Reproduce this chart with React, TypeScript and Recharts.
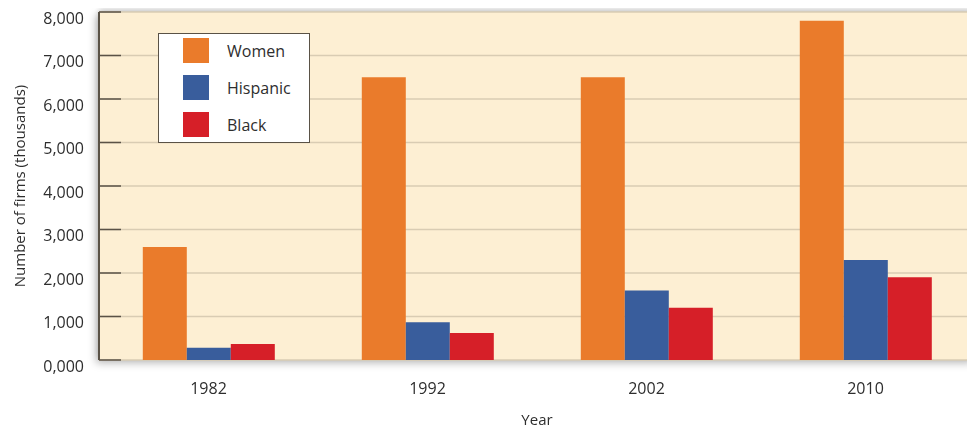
import { BarChart, Bar, XAxis, YAxis, CartesianGrid, Legend } from "recharts"

const years = ["1982", "1992", "2002", "2010"]
const women = [2600, 6500, 6500, 7800]
const hispanic = [280, 870, 1600, 2300]
const black = [370, 620, 1200, 1900]
const yTicks = [0, 1000, 2000, 3000, 4000, 5000, 6000, 7000, 8000]

const series = [
  { key: "women", name: "Women", color: "#ea7b2b" },
  { key: "hispanic", name: "Hispanic", color: "#395d9c" },
  { key: "black", name: "Black", color: "#d61f28" },
]

const data = years.map((year, i) => ({
  year,
  women: women[i],
  hispanic: hispanic[i],
  black: black[i],
}))

const font = "'Open Sans', 'Noto Sans', sans-serif"

const fmt = (v: number) => `${Math.floor(v / 1000)},${String(v % 1000).padStart(3, "0")}`

function LegendBox() {
  return (
    <div
      style={{
        background: "#fff",
        border: "1px solid #5a5246",
        width: 152,
        height: 110,
        boxSizing: "border-box",
        padding: "0 0 0 24px",
        fontFamily: font,
        fontSize: 16,
        color: "#2e2e2e",
      }}
    >
      <div style={{ marginTop: -2 }}>
        {series.map((s) => (
          <div key={s.key} style={{ display: "flex", alignItems: "center", height: 37 }}>
            <span style={{ width: 26, height: 25, background: s.color, display: "inline-block" }} />
            <span style={{ marginLeft: 18 }}>{s.name}</span>
          </div>
        ))}
      </div>
    </div>
  )
}

export default function App() {
  return (
    // fixed so the clipped right edge doesn't produce scrollbars
    <div style={{ position: "fixed", left: 8, top: 8, width: 959, height: 423, overflow: "hidden" }}>
      {/* plot background with soft shadow */}
      <div
        style={{
          position: "absolute",
          left: 91,
          top: 4,
          width: 876,
          height: 348,
          background: "#fdefd3",
          boxShadow: "-3px 3px 8px rgba(0,0,0,0.28), 0 -3px 6px rgba(0,0,0,0.18)",
        }}
      />
      <BarChart
        width={967}
        height={423}
        data={data}
        margin={{ top: 4, right: 0, bottom: 0, left: 0 }}
        barCategoryGap="20%"
        barGap={0}
        style={{ position: "absolute", left: 0, top: 0 }}
      >
        <CartesianGrid vertical={false} stroke="#d9ccb3" strokeWidth={1.5} />
        <XAxis
          xAxisId="sep"
          type="number"
          domain={[0, 4]}
          ticks={[1, 2, 3]}
          height={0}
          tick={false}
          tickSize={-8}
          tickLine={{ stroke: "#5a5246", strokeWidth: 1.5 }}
          axisLine={{ stroke: "#5a5246", strokeWidth: 2 }}
        />
        <XAxis
          xAxisId="cat"
          dataKey="year"
          height={71}
          axisLine={false}
          tickLine={false}
          tickMargin={17}
          tick={{ fill: "#2e2e2e", fontSize: 16, fontFamily: font }}
          label={{
            value: "Year",
            position: "insideBottom",
            offset: 6,
            fill: "#2e2e2e",
            fontSize: 15,
            fontFamily: font,
          }}
        />
        <YAxis
          width={91}
          domain={[0, 8000]}
          ticks={yTicks}
          interval={0}
          tickFormatter={fmt}
          tickSize={-22}
          tickMargin={37}
          tickLine={{ stroke: "#5a5246", strokeWidth: 1.5 }}
          axisLine={{ stroke: "#5a5246", strokeWidth: 2 }}
          tick={{ fill: "#2e2e2e", fontSize: 16, fontFamily: font, dy: 6 }}
          label={{
            value: "Number of firms (thousands)",
            angle: -90,
            position: "center",
            dx: -34,
            fill: "#2e2e2e",
            fontSize: 15,
            fontFamily: font,
          }}
        />
        <Legend
          verticalAlign="middle"
          align="center"
          layout="vertical"
          wrapperStyle={{ left: 150, top: 25, width: 152 }}
          content={() => <LegendBox />}
        />
        {series.map((s) => (
          <Bar key={s.key} xAxisId="cat" dataKey={s.key} name={s.name} fill={s.color} isAnimationActive={false} />
        ))}
      </BarChart>
    </div>
  )
}
